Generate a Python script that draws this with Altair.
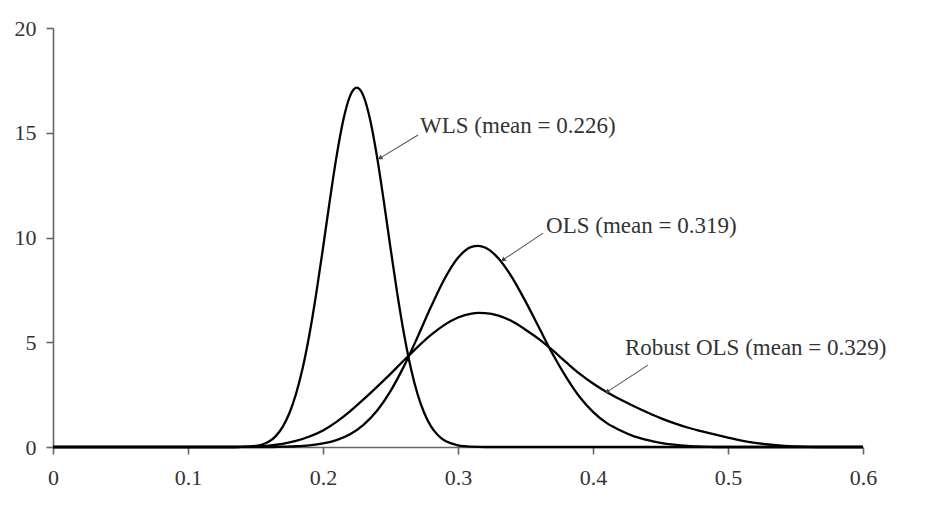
import altair as alt
import pandas as pd

# ---- data ----
wls_x = [0.0, 0.13, 0.14, 0.145, 0.15, 0.155, 0.16, 0.165, 0.17, 0.175, 0.18, 0.185,
         0.19, 0.195, 0.20, 0.205, 0.21, 0.215, 0.22, 0.225, 0.23, 0.235, 0.24, 0.245,
         0.25, 0.255, 0.26, 0.265, 0.27, 0.275, 0.28, 0.285, 0.29, 0.295, 0.30, 0.305,
         0.31, 0.32, 0.6]
wls_y = [0, 0, 0.01, 0.02, 0.05, 0.12, 0.26, 0.52, 0.95, 1.6, 2.53, 3.78,
         5.39, 7.33, 9.50, 11.75, 13.86, 15.6, 16.75, 17.15, 16.75, 15.6, 13.86, 11.75,
         9.5, 7.33, 5.39, 3.78, 2.53, 1.62, 0.98, 0.57, 0.31, 0.17, 0.08, 0.04,
         0.02, 0, 0]

ols_x = [0.0, 0.16, 0.17, 0.18, 0.19, 0.20, 0.21, 0.22, 0.23, 0.24, 0.25, 0.26, 0.27,
         0.28, 0.29, 0.30, 0.31, 0.315, 0.32, 0.33, 0.34, 0.35, 0.36, 0.37, 0.38, 0.39,
         0.40, 0.41, 0.42, 0.43, 0.44, 0.45, 0.46, 0.47, 0.48, 0.49, 0.6]
ols_y = [0, 0, 0.015, 0.035, 0.08, 0.17, 0.33, 0.61, 1.06, 1.73, 2.67, 3.86, 5.24,
         6.69, 8.02, 9.03, 9.55, 9.6, 9.52, 9.0, 8.1, 6.95, 5.7, 4.45, 3.35, 2.4,
         1.68, 1.15, 0.8, 0.52, 0.34, 0.2, 0.11, 0.05, 0.02, 0, 0]

rob_x = [0.0, 0.13, 0.14, 0.15, 0.16, 0.17, 0.18, 0.19, 0.20, 0.21, 0.22, 0.23, 0.24,
         0.25, 0.26, 0.27, 0.28, 0.29, 0.30, 0.31, 0.315, 0.32, 0.33, 0.34, 0.35, 0.36,
         0.37, 0.38, 0.39, 0.40, 0.41, 0.42, 0.43, 0.44, 0.45, 0.46, 0.47, 0.48, 0.49,
         0.50, 0.51, 0.52, 0.53, 0.54, 0.55, 0.56, 0.57, 0.6]
rob_y = [0, 0, 0.01, 0.03, 0.07, 0.15, 0.29, 0.5, 0.79, 1.2, 1.7, 2.27, 2.87,
         3.49, 4.14, 4.77, 5.35, 5.83, 6.18, 6.37, 6.4, 6.39, 6.27, 6.0, 5.6, 5.15,
         4.62, 4.05, 3.5, 3.03, 2.63, 2.28, 1.96, 1.66, 1.38, 1.14, 0.93, 0.76, 0.6,
         0.45, 0.31, 0.2, 0.12, 0.06, 0.03, 0.01, 0, 0]

labels = ["WLS (mean = 0.226)", "OLS (mean = 0.319)", "Robust OLS (mean = 0.329)"]
label_x = [0.2719, 0.3652, 0.4237]
label_y = [15.3, 10.55, 4.73]
arrow_x1 = [0.2704, 0.3630, 0.4407]
arrow_y1 = [14.89, 10.21, 3.91]
arrow_x2 = [0.2422, 0.3333, 0.4104]
arrow_y2 = [13.79, 8.93, 2.63]
arrow_angle = [239, 236, 237]

x_ticks = [0, 0.1, 0.2, 0.3, 0.4, 0.5, 0.6]
y_ticks = [0, 5, 10, 15, 20]

# ---- tables ----
rows = []
for name, xs, ys in [("WLS", wls_x, wls_y), ("OLS", ols_x, ols_y), ("Robust OLS", rob_x, rob_y)]:
    for a, b in zip(xs, ys):
        rows.append({"series": name, "x": a, "y": b})
curves = pd.DataFrame(rows)

ann = pd.DataFrame({
    "label": labels, "lx": label_x, "ly": label_y,
    "x1": arrow_x1, "y1": arrow_y1, "x2": arrow_x2, "y2": arrow_y2,
    "angle": arrow_angle,
})

FONT = "Liberation Serif"
xs = alt.Scale(domain=[0, 0.6], nice=False, zero=False)
ys = alt.Scale(domain=[0, 20], nice=False)

lines = alt.Chart(curves).mark_line(
    color="black", strokeWidth=2.3, interpolate="monotone"
).encode(
    x=alt.X("x:Q", scale=xs, axis=alt.Axis(values=x_ticks, format=".1~f", title=None,
                                           labelPadding=13, labelOverlap=False,
                                           labelFlush=False)),
    y=alt.Y("y:Q", scale=ys, axis=alt.Axis(values=y_ticks, format="d", title=None,
                                           labelPadding=10)),
    detail="series:N",
)

texts = alt.Chart(ann).mark_text(
    align="left", baseline="middle", font=FONT, fontSize=23, color="#333333"
).encode(
    x=alt.X("lx:Q", scale=xs), y=alt.Y("ly:Q", scale=ys), text="label:N"
)

rules = alt.Chart(ann).mark_rule(color="#555555", strokeWidth=1.1).encode(
    x=alt.X("x1:Q", scale=xs), y=alt.Y("y1:Q", scale=ys), x2="x2:Q", y2="y2:Q"
)

heads = alt.Chart(ann).mark_point(
    shape="triangle-up", filled=True, size=28, color="#444444", opacity=1
).encode(
    x=alt.X("x2:Q", scale=xs), y=alt.Y("y2:Q", scale=ys),
    angle=alt.Angle("angle:Q", scale=None),
)

chart = alt.layer(lines, rules, heads, texts).properties(
    width=810, height=419, autosize="none",
    padding={"left": 53, "top": 28, "right": 64, "bottom": 62},
    background="white",
).configure_view(stroke=None).configure_axis(
    grid=False, domainColor="#666666", domainWidth=1.6, tickColor="#666666",
    tickWidth=1.6, tickSize=7, labelFont=FONT, labelFontSize=22, labelColor="#333333",
)

chart.save("out.html", embed_options={"renderer": "svg", "actions": False})
